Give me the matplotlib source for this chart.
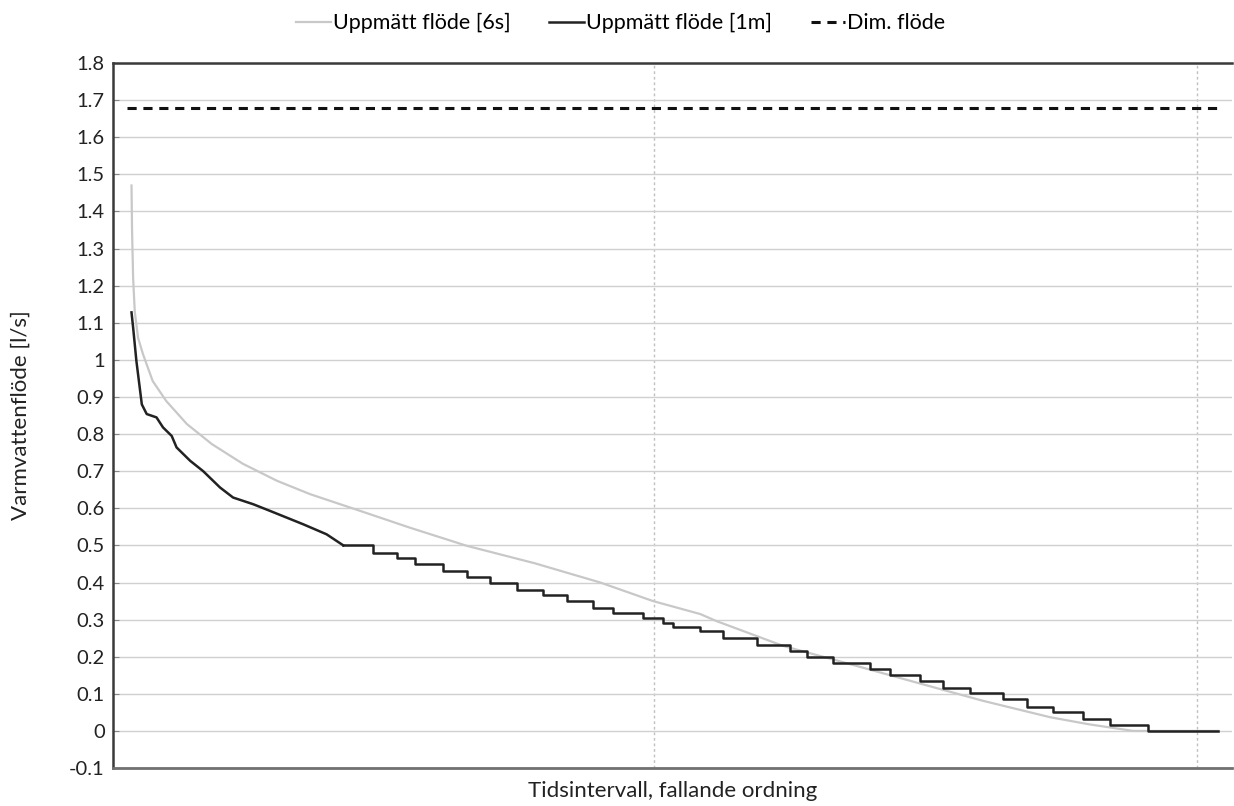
import matplotlib; matplotlib.use("Agg")
import matplotlib.pyplot as plt
import numpy as np

plt.rcParams["font.family"] = ["Lato", "DejaVu Sans"]

# x = rank of time interval (sorted by flow, descending)
x_6s = [38, 39, 41, 44, 50, 59, 77, 102, 140, 186, 243, 306, 367, 459, 550, 655,
        780, 901, 998, 1085, 1115, 1238, 1361, 1484, 1606, 1729, 1800, 1882, 2039]
q_6s = [1.47, 1.35, 1.22, 1.13, 1.06, 1.016, 0.943, 0.889, 0.827, 0.773, 0.72,
        0.674, 0.638, 0.593, 0.548, 0.499, 0.452, 0.40, 0.35, 0.315, 0.296,
        0.229, 0.18, 0.13, 0.081, 0.037, 0.018, 0.0, 0.0]

# 1-minute series, smooth head
x_1m_head = [38, 41, 47, 57, 66, 84, 96, 112, 121, 146, 170, 201, 225, 262, 293,
             354, 397, 428]
q_1m_head = [1.128, 1.087, 0.997, 0.88, 0.854, 0.845, 0.818, 0.795, 0.764, 0.728,
             0.70, 0.656, 0.629, 0.611, 0.593, 0.557, 0.53, 0.50]
# stepped tail (step start, level)
x_1m_tail = [428, 483, 527, 560, 611, 656, 698, 748, 796, 840, 888, 924,
             980, 1017, 1035, 1085, 1127, 1190, 1250, 1282, 1330, 1398, 1435, 1490,
             1532, 1582, 1643, 1687, 1735, 1790, 1840, 1910, 2039]
q_1m_tail = [0.50, 0.48, 0.465, 0.449, 0.431, 0.415, 0.40, 0.381, 0.367, 0.35,
             0.332, 0.317, 0.305, 0.292, 0.28, 0.27, 0.251, 0.232, 0.216, 0.199,
             0.184, 0.167, 0.151, 0.135, 0.117, 0.103, 0.085, 0.065, 0.051, 0.031,
             0.016, 0.0, 0.0]

dim_flow = 1.68
x_span = [30, 2039]

yticks = np.round(np.arange(-0.1, 1.81, 0.1), 1)
ylabels = ["1" if v == 1 else ("0" if v == 0 else f"{v:g}") for v in yticks]

fig = plt.figure(figsize=(12.34, 8.06), dpi=100)
ax = fig.add_axes([0.0916, 0.0471, 0.9068, 0.8747])

ax.plot(x_6s, q_6s, color="#c8c8c8", lw=1.6, label="Uppmätt flöde [6s]", zorder=3)
ax.plot(x_1m_head, q_1m_head, color="#222222", lw=1.8, zorder=4,
        label="Uppmätt flöde [1m]")
ax.plot(x_1m_tail, q_1m_tail, color="#222222", lw=1.8, drawstyle="steps-post", zorder=4)
ax.plot(x_span, [dim_flow, dim_flow], color="#111111", lw=2.2,
        linestyle=(0, (3, 2.2)), label="Dim. flöde", zorder=4)

ax.set_xlim(4, 2064)
ax.set_ylim(-0.1, 1.8)
ax.set_yticks(yticks)
ax.set_yticklabels(ylabels, fontsize=14.5, color="#222222")
ax.set_xticks([1000, 2000])
ax.set_xticklabels([])
ax.tick_params(axis="x", length=0)
ax.tick_params(axis="y", direction="in", length=4, color="#888888", pad=6)

ax.grid(axis="y", color="#d0d0d0", lw=1.0, linestyle="-", zorder=0)
ax.grid(axis="x", color="#c0c0c0", lw=1.0, linestyle=(0, (2, 2)), zorder=0)
ax.set_axisbelow(True)

for s in ["left", "top"]:
    ax.spines[s].set_color("#3a3a3a"); ax.spines[s].set_linewidth(1.8)
ax.spines["bottom"].set_color("#707070"); ax.spines["bottom"].set_linewidth(2.0)
ax.spines["right"].set_visible(False)

ax.set_ylabel("Varmvattenflöde [l/s]", fontsize=16, color="#222222")
ax.yaxis.set_label_coords(-0.074, 0.5)
ax.set_xlabel("Tidsintervall, fallande ordning", fontsize=16, color="#222222", labelpad=6)

fig.legend(loc="upper center", bbox_to_anchor=(0.503, 1.008), ncol=3, frameon=False,
           fontsize=15.5, handlelength=1.6, handletextpad=0.1, columnspacing=1.8)

fig.savefig("out.png", dpi=100)
